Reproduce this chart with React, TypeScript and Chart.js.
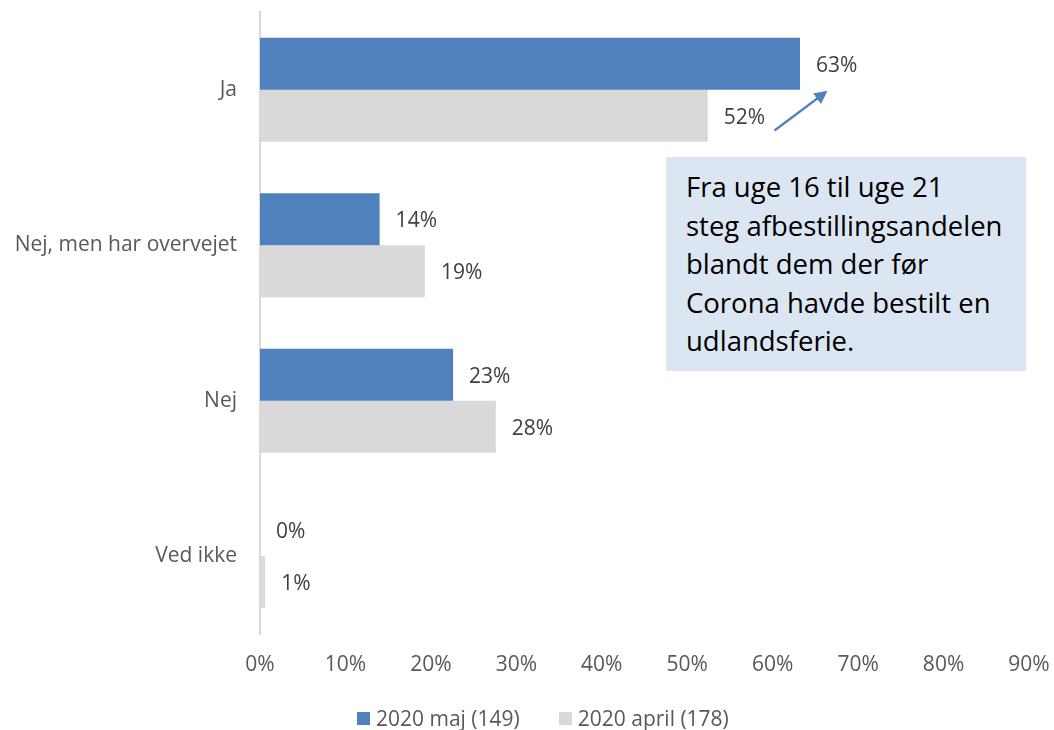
import React, { useEffect, useRef } from "react";
import { Chart, registerables } from "chart.js";

Chart.register(...registerables);

const categories = ["Ja", "Nej, men har overvejet", "Nej", "Ved ikke"];
const seriesNames = ["2020 maj (149)", "2020 april (178)"];
const majValues = [63.2, 14.0, 22.6, 0];
const aprilValues = [52.4, 19.3, 27.6, 0.6];
const xTicks = [0, 10, 20, 30, 40, 50, 60, 70, 80, 90];
const noteLines = [
  "Fra uge 16 til uge 21",
  "steg afbestillingsandelen",
  "blandt dem der før",
  "Corona havde bestilt en",
  "udlandsferie.",
];

const COLORS = ["#4F81BD", "#D9D9D9"];
const FONT = "'Open Sans', Lato, sans-serif";

const dataLabelPlugin = {
  id: "dataLabels",
  afterDatasetsDraw(chart: any) {
    const ctx = chart.ctx;
    ctx.save();
    ctx.font = `21px ${FONT}`;
    ctx.fillStyle = "#404040";
    ctx.textAlign = "left";
    ctx.textBaseline = "middle";
    chart.data.datasets.forEach((ds: any, di: number) => {
      const meta = chart.getDatasetMeta(di);
      meta.data.forEach((bar: any, i: number) => {
        const v = ds.data[i];
        ctx.fillText(`${Math.round(v)}%`, bar.x + 16, bar.y + 2);
      });
    });
    ctx.restore();
  },
};

export default function App() {
  const ref = useRef<HTMLCanvasElement | null>(null);

  useEffect(() => {
    if (!ref.current) return;
    const chart = new Chart(ref.current, {
      type: "bar",
      data: {
        labels: categories,
        datasets: [
          {
            label: seriesNames[0],
            data: majValues,
            backgroundColor: COLORS[0],
            barPercentage: 1,
            categoryPercentage: 0.669,
          },
          {
            label: seriesNames[1],
            data: aprilValues,
            backgroundColor: COLORS[1],
            barPercentage: 1,
            categoryPercentage: 0.669,
          },
        ],
      },
      options: {
        indexAxis: "y",
        animation: false,
        responsive: false,
        maintainAspectRatio: false,
        layout: { padding: { top: 12, right: 25, bottom: 46, left: 0 } },
        plugins: {
          legend: { display: false },
          tooltip: { enabled: false },
        },
        scales: {
          x: {
            min: 0,
            max: 90,
            afterBuildTicks(scale: any) {
              scale.ticks = xTicks.map((v) => ({ value: v }));
            },
            afterFit(scale: any) {
              scale.height = 50;
              scale.paddingLeft = 0;
              scale.paddingRight = 0;
            },
            grid: { display: false, drawTicks: false },
            border: { display: false },
            ticks: {
              padding: 18,
              color: "#595959",
              font: { family: FONT, size: 21 },
              callback: (v: any) => `${v}%`,
              maxRotation: 0,
              autoSkip: false,
            },
          },
          y: {
            afterFit(scale: any) {
              scale.width = 260;
              scale.paddingTop = 0;
              scale.paddingBottom = 0;
            },
            grid: { display: false, drawTicks: false },
            border: { display: true, color: "#D9D9D9", width: 2 },
            ticks: {
              padding: 23,
              color: "#595959",
              font: { family: FONT, size: 21 },
            },
          },
        },
      },
      plugins: [dataLabelPlugin],
    });
    return () => chart.destroy();
  }, []);

  return (
    <div
      style={{
        position: "absolute",
        left: 0,
        top: 0,
        width: 1054,
        height: 730,
        background: "#fff",
        fontFamily: FONT,
      }}
    >
      <canvas ref={ref} width={1054} height={730} style={{ display: "block" }} />
      <svg
        width={1054}
        height={730}
        style={{ position: "absolute", left: 0, top: 0, pointerEvents: "none" }}
      >
        <defs>
          <marker
            id="ah"
            markerWidth="6"
            markerHeight="6"
            refX="4"
            refY="3"
            orient="auto"
            markerUnits="strokeWidth"
          >
            <path d="M0,0 L6,3 L0,6 Z" fill="#4F81BD" />
          </marker>
        </defs>
        <line
          x1={774.5}
          y1={130.5}
          x2={824}
          y2={93.5}
          stroke="#4F81BD"
          strokeWidth={2.2}
          markerEnd="url(#ah)"
        />
      </svg>
      <div
        style={{
          position: "absolute",
          left: 666,
          top: 157,
          width: 360,
          height: 214,
          background: "#DCE6F2",
          boxSizing: "border-box",
          padding: "11px 0 0 20px",
          color: "#000",
          fontSize: 27.5,
          lineHeight: "38.5px",
          whiteSpace: "pre",
        }}
      >
        {noteLines.join("\n")}
      </div>
      <div
        style={{
          position: "absolute",
          left: 357,
          top: 718,
          transform: "translateY(-50%)",
          display: "flex",
          alignItems: "center",
          fontSize: 21,
          lineHeight: "24px",
          color: "#595959",
          whiteSpace: "nowrap",
        }}
      >
        {seriesNames.map((name, i) => (
          <div
            key={name}
            style={{ display: "flex", alignItems: "center", marginRight: i === 0 ? 39 : 0 }}
          >
            <span
              style={{
                display: "inline-block",
                width: 13,
                height: 13,
                background: COLORS[i],
                marginRight: 6,
              }}
            />
            <span>{name}</span>
          </div>
        ))}
      </div>
    </div>
  );
}
